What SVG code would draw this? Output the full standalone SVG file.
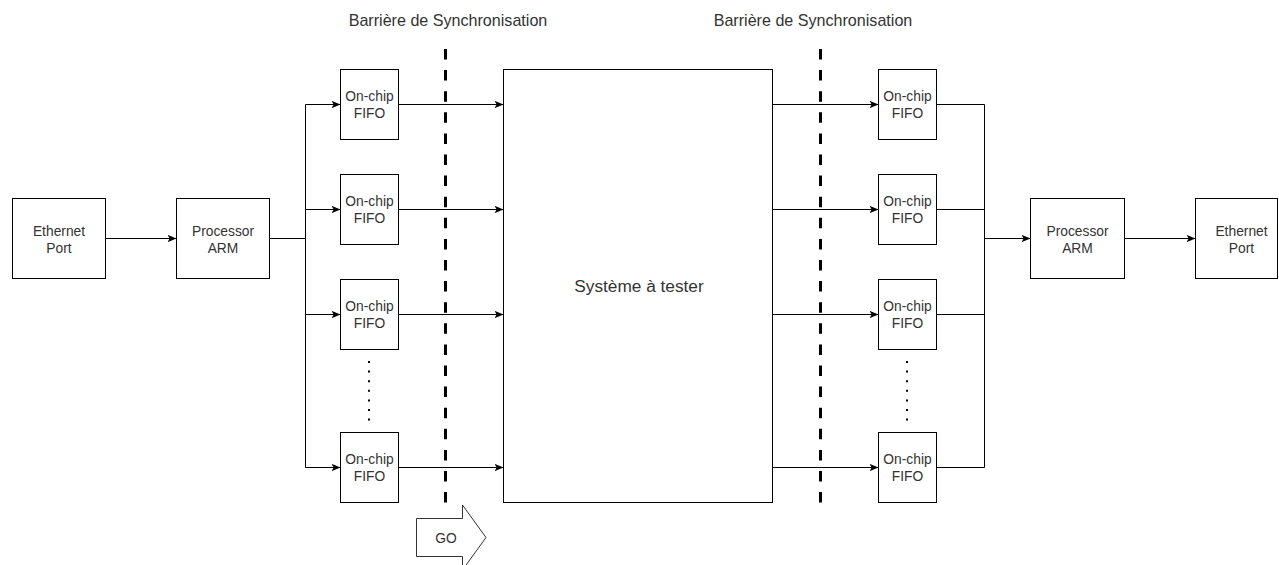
<svg xmlns="http://www.w3.org/2000/svg" width="1279" height="565" viewBox="0 0 1279 565">
  <style>
    .box { fill: #ffffff; stroke: #000000; stroke-width: 1; }
    .lbl { font-family: "Liberation Sans", Arial, sans-serif; font-size: 13.8px; fill: #333333; text-anchor: middle; }
    .big { font-family: "Liberation Sans", Arial, sans-serif; font-size: 17.25px; fill: #333333; text-anchor: middle; }
    .title { font-family: "Liberation Sans", Arial, sans-serif; font-size: 16.1px; fill: #333333; text-anchor: middle; }
    .wire { fill: none; stroke: #000000; stroke-width: 1; }
    .arrow { fill: none; stroke: #000000; stroke-width: 1; marker-end: url(#head); }
    .barrier { fill: none; stroke: #000000; stroke-width: 3; stroke-dasharray: 10.5 10.6; }
    .dots { fill: none; stroke: #000000; stroke-width: 2; stroke-dasharray: 2 7.6; }
  </style>
  <defs>
    <marker id="head" markerUnits="userSpaceOnUse" viewBox="0 0 10 8" refX="10" refY="4" markerWidth="9" markerHeight="8" orient="auto">
      <path d="M0,0 L10,4 L0,8 L2.5,4 z" fill="#000000"/>
    </marker>
  </defs>
  <rect width="1279" height="565" fill="#ffffff"/>

  <!-- barrier labels and dashed barriers -->
  <g id="barrier-left">
    <text class="title" x="448" y="26">Barrière de Synchronisation</text>
    <line class="barrier" x1="445.5" y1="49" x2="445.5" y2="503"/>
  </g>
  <g id="barrier-right">
    <text class="title" x="813" y="26">Barrière de Synchronisation</text>
    <line class="barrier" x1="820.5" y1="49" x2="820.5" y2="503"/>
  </g>

  <!-- connectors -->
  <g id="connectors">
    <line class="arrow" x1="105.5" y1="238.5" x2="176.5" y2="238.5"/>
    <polyline class="wire" points="269.5,238.5 305.5,238.5"/>
    <line class="wire" x1="305.5" y1="104.5" x2="305.5" y2="467.5"/>
    <line class="arrow" x1="305.5" y1="104.5" x2="340.5" y2="104.5"/>
    <line class="arrow" x1="305.5" y1="209.5" x2="340.5" y2="209.5"/>
    <line class="arrow" x1="305.5" y1="314.5" x2="340.5" y2="314.5"/>
    <line class="arrow" x1="305.5" y1="467.5" x2="340.5" y2="467.5"/>

    <line class="arrow" x1="398.5" y1="104.5" x2="503.5" y2="104.5"/>
    <line class="arrow" x1="398.5" y1="209.5" x2="503.5" y2="209.5"/>
    <line class="arrow" x1="398.5" y1="314.5" x2="503.5" y2="314.5"/>
    <line class="arrow" x1="398.5" y1="467.5" x2="503.5" y2="467.5"/>

    <line class="arrow" x1="772.5" y1="104.5" x2="878.5" y2="104.5"/>
    <line class="arrow" x1="772.5" y1="209.5" x2="878.5" y2="209.5"/>
    <line class="arrow" x1="772.5" y1="314.5" x2="878.5" y2="314.5"/>
    <line class="arrow" x1="772.5" y1="467.5" x2="878.5" y2="467.5"/>

    <line class="wire" x1="936.5" y1="104.5" x2="984.5" y2="104.5"/>
    <line class="wire" x1="936.5" y1="209.5" x2="984.5" y2="209.5"/>
    <line class="wire" x1="936.5" y1="314.5" x2="984.5" y2="314.5"/>
    <line class="wire" x1="936.5" y1="467.5" x2="984.5" y2="467.5"/>
    <line class="wire" x1="984.5" y1="104.5" x2="984.5" y2="467.5"/>
    <line class="arrow" x1="984.5" y1="238.5" x2="1030.5" y2="238.5"/>
    <line class="arrow" x1="1124.5" y1="238.5" x2="1195.5" y2="238.5"/>

    <line class="dots" x1="369" y1="361" x2="369" y2="421"/>
    <line class="dots" x1="907" y1="361" x2="907" y2="421"/>
  </g>

  <!-- input side -->
  <g id="eth-in">
    <rect class="box" x="12.5" y="198.5" width="93" height="80"/>
    <text class="lbl" x="59" y="236">Ethernet</text>
    <text class="lbl" x="59" y="252.5">Port</text>
  </g>
  <g id="arm-in">
    <rect class="box" x="176.5" y="198.5" width="93" height="80"/>
    <text class="lbl" x="223" y="236">Processor</text>
    <text class="lbl" x="223" y="252.5">ARM</text>
  </g>
  <g id="fifo-in-1">
    <rect class="box" x="340.5" y="69.5" width="58" height="70"/>
    <text class="lbl" x="369.5" y="101">On-chip</text>
    <text class="lbl" x="369.5" y="117.5">FIFO</text>
  </g>
  <g id="fifo-in-2">
    <rect class="box" x="340.5" y="174.5" width="58" height="70"/>
    <text class="lbl" x="369.5" y="206">On-chip</text>
    <text class="lbl" x="369.5" y="222.5">FIFO</text>
  </g>
  <g id="fifo-in-3">
    <rect class="box" x="340.5" y="279.5" width="58" height="70"/>
    <text class="lbl" x="369.5" y="311">On-chip</text>
    <text class="lbl" x="369.5" y="327.5">FIFO</text>
  </g>
  <g id="fifo-in-4">
    <rect class="box" x="340.5" y="432.5" width="58" height="70"/>
    <text class="lbl" x="369.5" y="464">On-chip</text>
    <text class="lbl" x="369.5" y="480.5">FIFO</text>
  </g>

  <!-- system under test -->
  <g id="dut">
    <rect class="box" x="503.5" y="69.5" width="269" height="433"/>
    <text class="big" x="639" y="292">Système à tester</text>
  </g>

  <!-- output side -->
  <g id="fifo-out-1">
    <rect class="box" x="878.5" y="69.5" width="58" height="70"/>
    <text class="lbl" x="907.5" y="101">On-chip</text>
    <text class="lbl" x="907.5" y="117.5">FIFO</text>
  </g>
  <g id="fifo-out-2">
    <rect class="box" x="878.5" y="174.5" width="58" height="70"/>
    <text class="lbl" x="907.5" y="206">On-chip</text>
    <text class="lbl" x="907.5" y="222.5">FIFO</text>
  </g>
  <g id="fifo-out-3">
    <rect class="box" x="878.5" y="279.5" width="58" height="70"/>
    <text class="lbl" x="907.5" y="311">On-chip</text>
    <text class="lbl" x="907.5" y="327.5">FIFO</text>
  </g>
  <g id="fifo-out-4">
    <rect class="box" x="878.5" y="432.5" width="58" height="70"/>
    <text class="lbl" x="907.5" y="464">On-chip</text>
    <text class="lbl" x="907.5" y="480.5">FIFO</text>
  </g>
  <g id="arm-out">
    <rect class="box" x="1030.5" y="198.5" width="94" height="80"/>
    <text class="lbl" x="1077.5" y="236">Processor</text>
    <text class="lbl" x="1077.5" y="252.5">ARM</text>
  </g>
  <g id="eth-out">
    <rect class="box" x="1195.5" y="198.5" width="82" height="80"/>
    <text class="lbl" x="1241.5" y="236">Ethernet</text>
    <text class="lbl" x="1241.5" y="252.5">Port</text>
  </g>

  <!-- start signal -->
  <g id="go">
    <polygon points="416.5,518.5 462.5,518.5 462.5,505 486,537.5 462.5,570 462.5,556.5 416.5,556.5" fill="#ffffff" stroke="#333333" stroke-width="1"/>
    <text class="lbl" x="446" y="542.5">GO</text>
  </g>
</svg>
